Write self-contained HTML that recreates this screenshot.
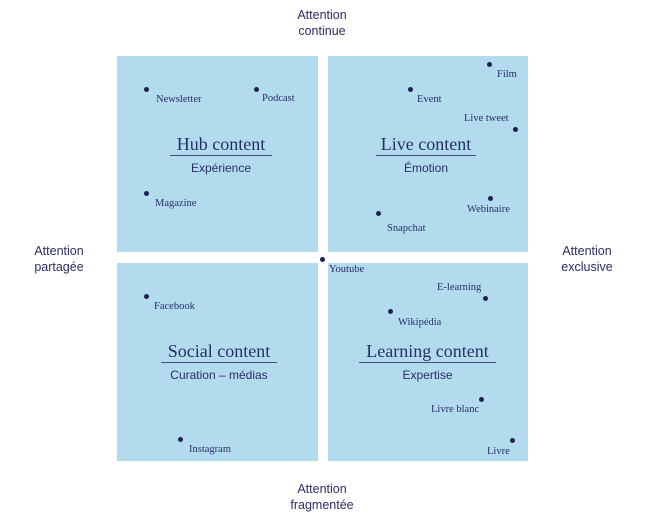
<!DOCTYPE html>
<html><head><meta charset="utf-8"><style>
body{margin:0;width:648px;height:521px;background:#fff;position:relative;overflow:hidden;font-family:"Liberation Sans",sans-serif;color:#2b2d66}
.q{position:absolute;background:#b2dcee}
.d{position:absolute;width:5px;height:5px;border-radius:50%;background:#1f1f55}
.l{position:absolute;font-family:"Liberation Serif",serif;font-size:10.5px;white-space:nowrap;color:#2b2d66}
.t{position:absolute;font-family:"Liberation Serif",serif;font-size:18px;text-align:center;white-space:nowrap;border-bottom:1px solid #4a4c80;line-height:21px}
.s{position:absolute;font-size:12px;text-align:center;white-space:nowrap}
.a{position:absolute;font-size:12.5px;text-align:center;line-height:16px;color:#2b2d66}
</style></head><body>
<div class="q" style="left:117px;top:56px;width:201px;height:196px"></div>
<div class="q" style="left:328px;top:56px;width:200px;height:196px"></div>
<div class="q" style="left:117px;top:263px;width:201px;height:198px"></div>
<div class="q" style="left:328px;top:263px;width:200px;height:198px"></div>

<div class="a" style="left:272px;top:7px;width:100px">Attention<br>continue</div>
<div class="a" style="left:272px;top:481px;width:100px">Attention<br>fragmentée</div>
<div class="a" style="left:14px;top:243px;width:90px">Attention<br>partagée</div>
<div class="a" style="left:542px;top:243px;width:90px">Attention<br>exclusive</div>

<div class="t" style="left:170px;top:134px;width:102px">Hub content</div>
<div class="s" style="left:170px;top:161px;width:102px">Expérience</div>
<div class="t" style="left:376px;top:134px;width:100px">Live content</div>
<div class="s" style="left:376px;top:161px;width:100px">Émotion</div>
<div class="t" style="left:161px;top:341px;width:116px">Social content</div>
<div class="s" style="left:151px;top:368px;width:136px">Curation – médias</div>
<div class="t" style="left:359px;top:341px;width:137px">Learning content</div>
<div class="s" style="left:359px;top:368px;width:137px">Expertise</div>

<div class="d" style="left:144px;top:87px"></div><div class="l" style="left:156px;top:94px">Newsletter</div>
<div class="d" style="left:254px;top:87px"></div><div class="l" style="left:262px;top:93px">Podcast</div>
<div class="d" style="left:144px;top:191px"></div><div class="l" style="left:155px;top:198px">Magazine</div>

<div class="d" style="left:487px;top:62px"></div><div class="l" style="left:497px;top:69px">Film</div>
<div class="d" style="left:408px;top:87px"></div><div class="l" style="left:417px;top:94px">Event</div>
<div class="l" style="left:464px;top:113px">Live tweet</div><div class="d" style="left:513px;top:127px"></div>
<div class="d" style="left:488px;top:196px"></div><div class="l" style="left:467px;top:204px">Webinaire</div>
<div class="d" style="left:376px;top:211px"></div><div class="l" style="left:387px;top:223px">Snapchat</div>

<div class="d" style="left:320px;top:257px"></div><div class="l" style="left:329px;top:264px">Youtube</div>
<div class="l" style="left:437px;top:282px">E-learning</div><div class="d" style="left:483px;top:296px"></div>
<div class="d" style="left:388px;top:309px"></div><div class="l" style="left:398px;top:317px">Wikipédia</div>
<div class="d" style="left:144px;top:294px"></div><div class="l" style="left:154px;top:301px">Facebook</div>
<div class="d" style="left:479px;top:397px"></div><div class="l" style="left:431px;top:404px">Livre blanc</div>
<div class="d" style="left:510px;top:438px"></div><div class="l" style="left:487px;top:446px">Livre</div>
<div class="d" style="left:178px;top:437px"></div><div class="l" style="left:189px;top:444px">Instagram</div>
</body></html>
